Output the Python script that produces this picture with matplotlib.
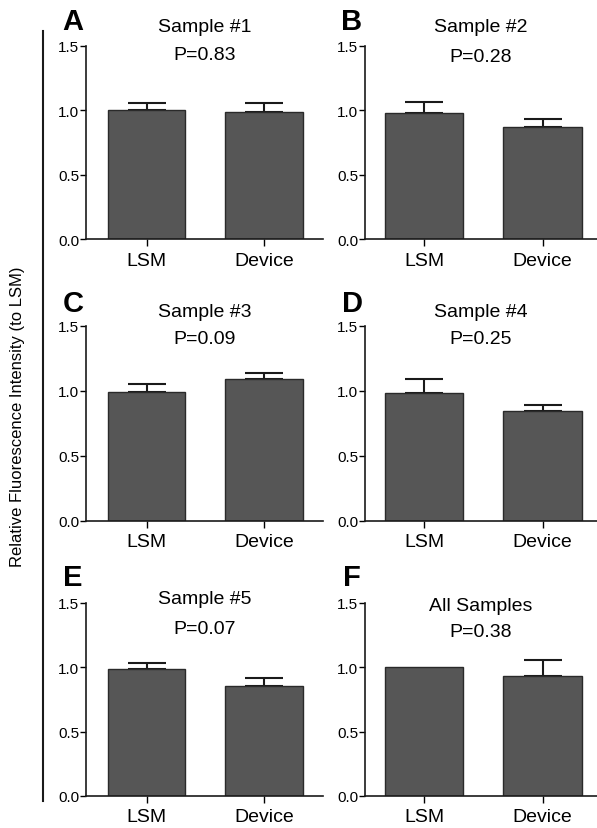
import numpy as np
import matplotlib
matplotlib.use('Agg')
import matplotlib.pyplot as plt
from matplotlib.lines import Line2D

plt.rcParams['font.family'] = ['Liberation Sans', 'DejaVu Sans']

groups = ["LSM", "Device"]
letters = ["A", "B", "C", "D", "E", "F"]
titles = ["Sample #1", "Sample #2", "Sample #3", "Sample #4", "Sample #5", "All Samples"]
pvals = ["P=0.83", "P=0.28", "P=0.09", "P=0.25", "P=0.07", "P=0.38"]
means = [[1.00, 0.99], [0.98, 0.87], [0.99, 1.09],
         [0.985, 0.85], [0.99, 0.855], [1.00, 0.935]]
errs = [[0.06, 0.065], [0.085, 0.065], [0.065, 0.045],
        [0.11, 0.045], [0.045, 0.065], [0.0, 0.12]]

W, H = 597, 829
fig = plt.figure(figsize=(W/100., H/100.), dpi=100)

# axes boxes in pixels: (left, right, top, bottom)
cols = [(86, 323), (365, 597)]
rows = [(47, 240), (327, 522), (604, 797)]
# title offsets (px above axes top for the two lines)
toffs = [(20, -8), (20, -10), (14, -13), (14, -13), (4, -26), (-3, -29)]
barfill = '#565656'

for k in range(6):
    r, c = k // 2, k % 2
    x0, x1 = cols[c]
    yt, yb = rows[r]
    ax = fig.add_axes([x0/float(W), 1-yb/float(H), (x1-x0)/float(W), (yb-yt)/float(H)])
    xpos = np.arange(len(groups))
    ax.bar(xpos, means[k], width=0.66, color=barfill, edgecolor='#2a2a2a', linewidth=1.0, zorder=2)
    for i in range(len(groups)):
        if errs[k][i] > 0:
            ax.errorbar([xpos[i]], [means[k][i]], yerr=[[0], [errs[k][i]]], fmt='none',
                        ecolor='#1a1a1a', elinewidth=1.5, capsize=14, capthick=1.5, zorder=1)
    if c == 0:
        ax.set_xlim(-0.515, 1.5)
    else:
        ax.set_xlim(-0.50, 1.46)
    ax.set_ylim(0, 1.5)
    ax.set_yticks([0.0, 0.5, 1.0, 1.5])
    ax.set_yticklabels(['0.0', '0.5', '1.0', '1.5'], fontsize=11)
    ax.set_xticks(xpos)
    ax.set_xticklabels(groups, fontsize=14)
    ax.tick_params(axis='y', length=4, width=1.0, pad=1)
    ax.tick_params(axis='x', length=5, width=1.0, pad=4)
    for s in ['top', 'right']:
        ax.spines[s].set_visible(False)
    for s in ['left', 'bottom']:
        ax.spines[s].set_linewidth(1.2)
        ax.spines[s].set_color('#1a1a1a')
    hpx = float(yb - yt)
    ax.text(0.5, 1 + toffs[k][0]/hpx, titles[k], transform=ax.transAxes,
            ha='center', va='center', fontsize=14)
    ax.text(0.5, 1 + toffs[k][1]/hpx, pvals[k], transform=ax.transAxes,
            ha='center', va='center', fontsize=14)
    lx = [73, 352][c]
    ly = [22, 304, 578][r]
    fig.text(lx/float(W), 1-ly/float(H), letters[k], ha='center', va='center',
             fontsize=21, fontweight='bold')

fig.add_artist(Line2D([43/float(W), 43/float(W)], [1-32/float(H), 1-802/float(H)],
                      color='#1a1a1a', linewidth=1.5))
fig.text(18/float(W), 1-417/float(H), 'Relative Fluorescence Intensity (to LSM)',
         rotation=90, ha='center', va='center', fontsize=12)

plt.savefig('out.png', dpi=100)
plt.close()
